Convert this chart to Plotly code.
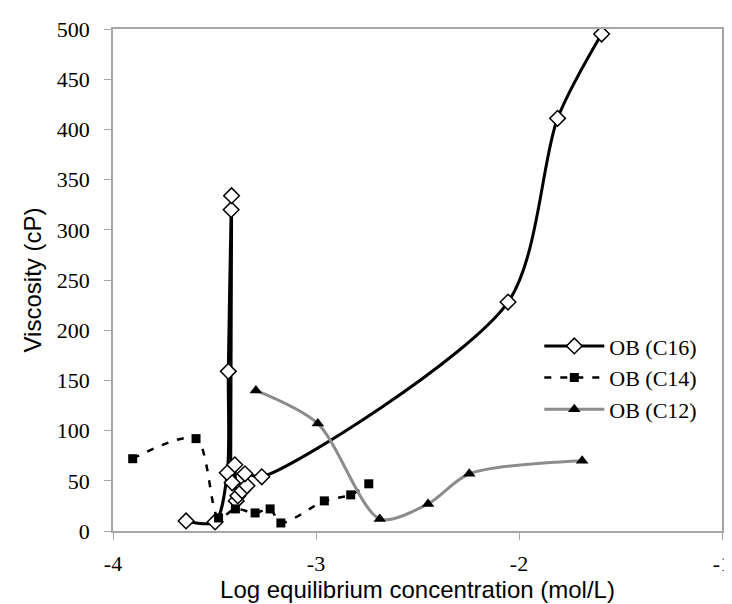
import plotly.graph_objects as go

# OB (C16)
c16_x = [-3.640, -3.497, -3.437, -3.432, -3.418, -3.416, -3.413, -3.400, -3.393,
         -3.385, -3.364, -3.340, -3.350, -3.267, -2.054, -1.810, -1.593]
c16_y = [10, 9, 58, 159, 320, 334, 48, 66, 30, 35, 40, 45, 57, 54, 228, 411, 495]

# OB (C14)
c14_x = [-3.903, -3.591, -3.480, -3.397, -3.300, -3.226, -3.173, -2.959, -2.829, -2.740]
c14_y = [72, 92, 13, 22, 18, 22, 8, 30, 36, 47]

# OB (C12)
c12_x = [-3.296, -2.991, -2.686, -2.448, -2.245, -1.689]
c12_y = [140, 107, 12, 27, 57, 70]

x_ticks = [-4, -3, -2, -1]
y_ticks = [0, 50, 100, 150, 200, 250, 300, 350, 400, 450, 500]

serif = "Times New Roman, Liberation Serif, serif"
sans = "Arial, Liberation Sans, sans-serif"
axis_gray = "#a6a6a6"

fig = go.Figure()
fig.add_trace(go.Scatter(
    x=c16_x, y=c16_y, name="OB (C16)", mode="lines+markers",
    line=dict(color="black", width=3, shape="spline", smoothing=0.8),
    marker=dict(symbol="diamond", size=12, color="white",
                line=dict(color="black", width=1.5)),
))
fig.add_trace(go.Scatter(
    x=c14_x, y=c14_y, name="OB (C14)", mode="lines+markers",
    line=dict(color="black", width=2.5, dash="7px,9px", shape="spline", smoothing=0.8),
    marker=dict(symbol="square", size=9, color="black"),
))
fig.add_trace(go.Scatter(
    x=c12_x, y=c12_y, name="OB (C12)", mode="lines+markers",
    line=dict(color="#8c8c8c", width=3, shape="spline", smoothing=0.8),
    marker=dict(symbol="triangle-up", size=11, color="black"),
))

fig.update_layout(
    width=732, height=604,
    margin=dict(l=105, r=9, t=21, b=81),
    paper_bgcolor="white", plot_bgcolor="white",
    showlegend=True,
    legend=dict(x=0.70, y=0.41, xanchor="left", yanchor="top",
                font=dict(family=serif, size=22, color="black"),
                bgcolor="rgba(0,0,0,0)", itemwidth=60, tracegroupgap=0),
)
fig.update_xaxes(
    range=[-4, -1], tickvals=x_ticks, ticktext=[str(v) for v in x_ticks],
    showgrid=False, zeroline=False, showline=True, linecolor=axis_gray, linewidth=1.5,
    mirror=True, ticks="outside", ticklen=7, tickcolor=axis_gray, ticklabelstandoff=5,
    tickfont=dict(family=serif, size=22, color="black"),
    title=dict(text="Log equilibrium concentration (mol/L)",
               font=dict(family=sans, size=24, color="black"), standoff=0),
)
fig.update_yaxes(
    range=[0, 500], tickvals=y_ticks,
    showgrid=False, zeroline=False, showline=True, linecolor=axis_gray, linewidth=1.5,
    mirror=True, ticks="outside", ticklen=7, tickcolor=axis_gray, ticklabelstandoff=10,
    tickfont=dict(family=serif, size=22, color="black"),
    title=dict(text="Viscosity (cP)",
               font=dict(family=sans, size=24, color="black"), standoff=8),
)

fig.write_html("out.html")
